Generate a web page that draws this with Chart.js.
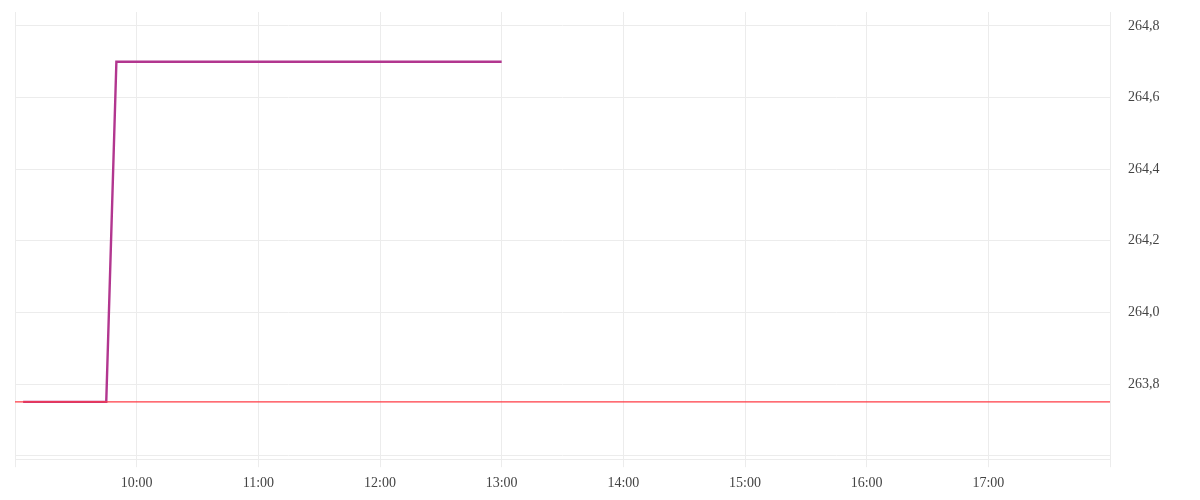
<!DOCTYPE html>
<html lang="en">
<head>
    <meta charset="UTF-8">
    <title>Intraday price</title>
    <script src="https://cdn.jsdelivr.net/npm/chart.js"></script>
    <style>
        html, body { margin: 0; padding: 0; background: #fff; }
        #wrap { width: 1200px; height: 500px; }
    </style>
</head>
<body>
    <div id="wrap"><canvas id="priceChart"></canvas></div>
    <script>
        // times in minutes after midnight
        const priceTimes = [544, 585, 590, 780];
        const priceValues = [263.75, 263.75, 264.7, 264.7];
        const prevClose = 263.75;
        const sessionStart = 540;   // 09:00
        const sessionEnd = 1080;    // 18:00
        const yTicks = [263.6, 263.8, 264.0, 264.2, 264.4, 264.6, 264.8];

        const fontSpec = { family: '"Liberation Serif", "Times New Roman", serif', size: 14 };

        function fmtTime(m) {
            const h = Math.floor(m / 60);
            return String(h).padStart(2, '0') + ':00';
        }

        const ctx = document.getElementById('priceChart').getContext('2d');
        new Chart(ctx, {
            type: 'line',
            data: {
                datasets: [{
                    data: priceTimes.map((t, i) => ({ x: t, y: priceValues[i] })),
                    borderColor: '#b2368f',
                    borderWidth: 2.4,
                    pointRadius: 0,
                    tension: 0,
                    order: 2
                }, {
                    data: [{ x: sessionStart, y: prevClose }, { x: sessionEnd, y: prevClose }],
                    borderColor: '#ff3b44',
                    borderWidth: 1.1,
                    pointRadius: 0,
                    order: 1
                }]
            },
            options: {
                responsive: true,
                maintainAspectRatio: false,
                animation: false,
                layout: { padding: { left: 15, top: 12, bottom: 0, right: 0 } },
                plugins: { legend: { display: false }, tooltip: { enabled: false } },
                scales: {
                    x: {
                        type: 'linear',
                        min: sessionStart,
                        max: sessionEnd,
                        grid: { color: '#ececec', tickLength: 8 },
                        border: { color: '#ececec' },
                        ticks: {
                            stepSize: 60,
                            autoSkip: false,
                            maxRotation: 0,
                            padding: 8,
                            color: '#444',
                            font: fontSpec,
                            callback: v => (v === sessionStart || v === sessionEnd) ? '' : fmtTime(v)
                        }
                    },
                    y: {
                        position: 'right',
                        min: 263.59,
                        max: 264.839,
                        afterBuildTicks: axis => { axis.ticks = yTicks.map(v => ({ value: v })); },
                        afterFit: axis => {
                            axis.width = 90;
                            axis.paddingTop = 0;
                            axis.paddingBottom = 0;
                        },
                        grid: { color: '#ececec', drawTicks: false },
                        border: { color: '#ececec' },
                        ticks: {
                            padding: 18,
                            color: '#444',
                            font: fontSpec,
                            callback: v => Math.abs(v - 263.6) < 1e-6 ? '' : v.toFixed(1).replace('.', ',')
                        }
                    }
                }
            }
        });
    </script>
</body>
</html>
